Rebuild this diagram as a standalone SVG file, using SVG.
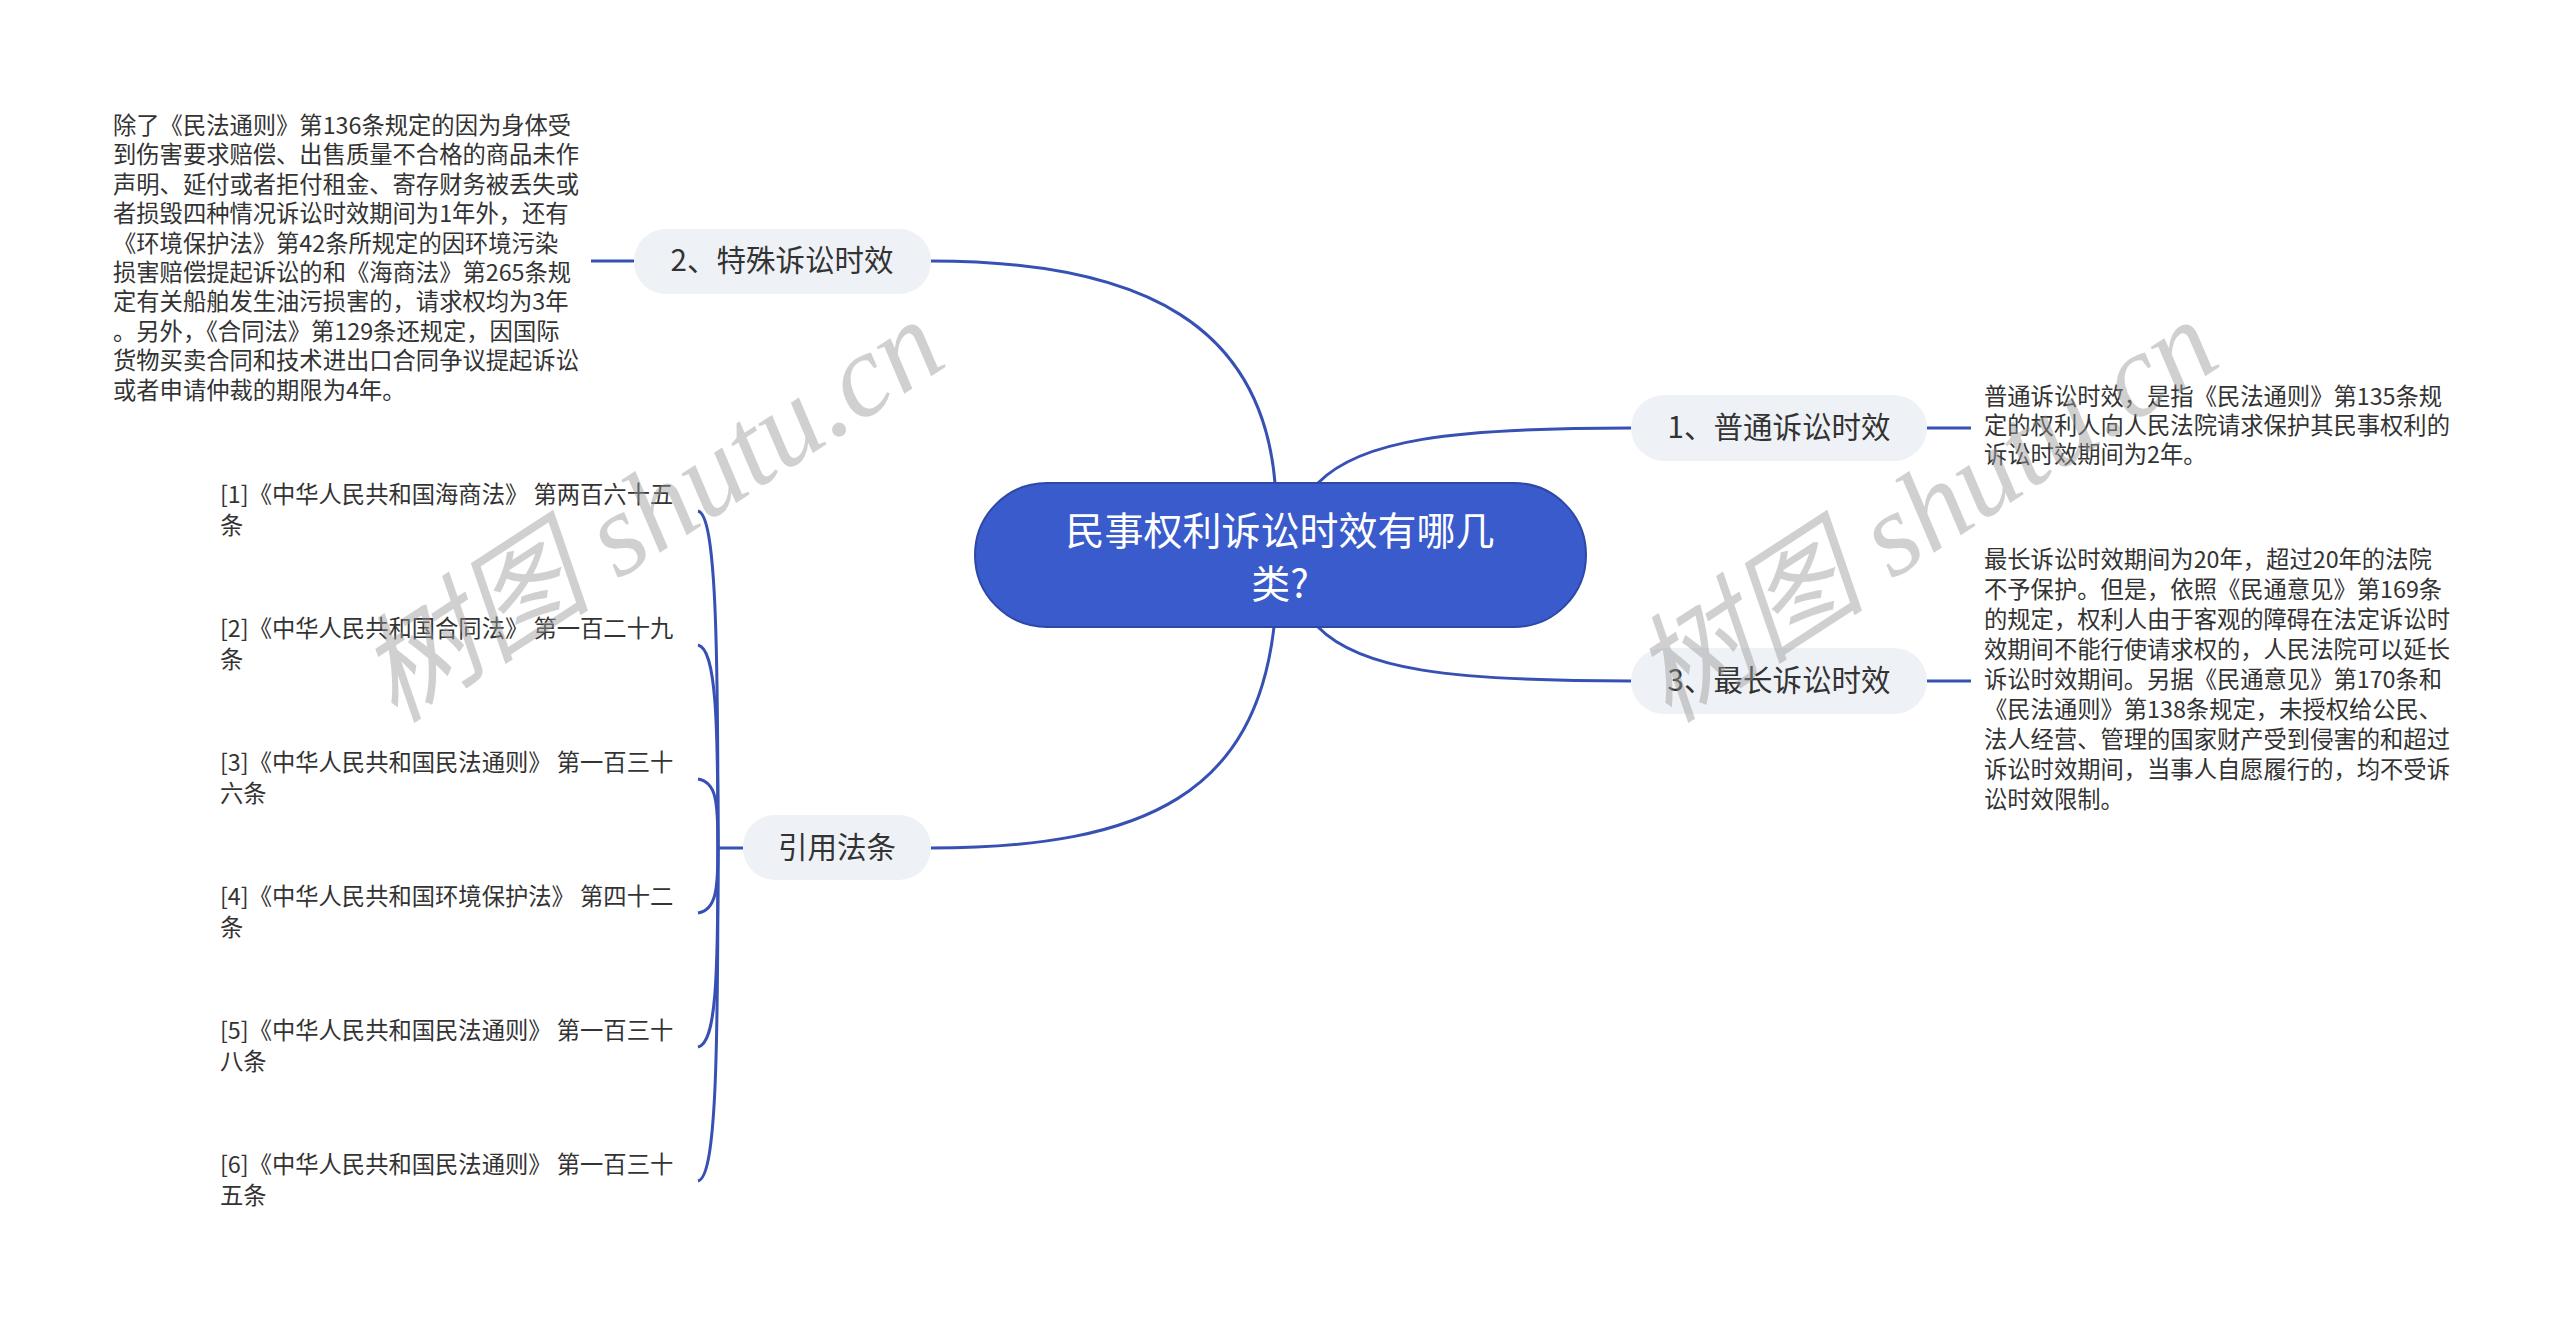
<svg xmlns="http://www.w3.org/2000/svg" width="2560" height="1323" viewBox="0 0 2560 1323">
<style>
.t{font-family:"Noto Sans CJK SC","Liberation Sans",sans-serif;fill:#333;font-size:23.3px}
.n{font-family:"Noto Sans CJK SC","Liberation Sans",sans-serif;fill:#333;font-size:29.5px}
.c{stroke:#3650b4;stroke-width:3;fill:none}
.wm{font-family:"Liberation Serif","Noto Sans CJK SC",serif;font-style:italic;font-size:118px;fill:#999;opacity:0.45}
</style>
<rect width="2560" height="1323" fill="#fff"/>
<g id="connectors">
<path class="c" d="M1275,483 C1262,330 1150,261 931,261"/>
<path class="c" d="M1318,483 C1360,440 1450,428 1631,428"/>
<path class="c" d="M1318,627 C1360,670 1450,681 1631,681"/>
<path class="c" d="M1274,627 C1255,790 1150,848 931,848"/>
<path class="c" d="M634,261 H591"/>
<path class="c" d="M1927,428 H1971"/>
<path class="c" d="M1927,681 H1971"/>
<path class="c" d="M743,848 H718"/>
<path class="c" d="M718,848 C718,640 716,515 698,511"/>
<path class="c" d="M718,848 C718,720 716,649 698,645"/>
<path class="c" d="M718,848 C718,800 716,782 698,779"/>
<path class="c" d="M718,848 C718,890 716,910 698,913"/>
<path class="c" d="M718,848 C718,980 716,1043 698,1047"/>
<path class="c" d="M718,848 C718,1060 716,1177 698,1181"/>
</g>
<g id="center">
<rect x="975" y="483" width="611" height="144" rx="72" fill="#3a5bcc" stroke="#2d48a6" stroke-width="2"/>
<text x="1280" y="545" text-anchor="middle" class="n" style="fill:#fff;font-size:39px">民事权利诉讼时效有哪几</text>
<text x="1280" y="598" text-anchor="middle" class="n" style="fill:#fff;font-size:39px">类?</text>
</g>
<g id="n1"><rect x="1631" y="395" width="296" height="66" rx="33" fill="#eef1f5"/><text x="1779" y="438" text-anchor="middle" class="n">1、普通诉讼时效</text></g>
<g id="n3"><rect x="1631" y="648" width="296" height="66" rx="33" fill="#eef1f5"/><text x="1779" y="691" text-anchor="middle" class="n">3、最长诉讼时效</text></g>
<g id="n2"><rect x="634" y="229" width="297" height="65" rx="32" fill="#eef1f5"/><text x="782" y="271" text-anchor="middle" class="n">2、特殊诉讼时效</text></g>
<g id="n4"><rect x="743" y="815" width="188" height="65" rx="32" fill="#eef1f5"/><text x="837" y="858" text-anchor="middle" class="n">引用法条</text></g>
<g id="t2">
<text class="t" x="113" y="134">除了《民法通则》第136条规定的因为身体受</text>
<text class="t" x="113" y="163">到伤害要求赔偿、出售质量不合格的商品未作</text>
<text class="t" x="113" y="193">声明、延付或者拒付租金、寄存财务被丢失或</text>
<text class="t" x="113" y="222">者损毁四种情况诉讼时效期间为1年外，还有</text>
<text class="t" x="113" y="252">《环境保护法》第42条所规定的因环境污染</text>
<text class="t" x="113" y="281">损害赔偿提起诉讼的和《海商法》第265条规</text>
<text class="t" x="113" y="310">定有关船舶发生油污损害的，请求权均为3年</text>
<text class="t" x="113" y="340">。另外，《合同法》第129条还规定，因国际</text>
<text class="t" x="113" y="369">货物买卖合同和技术进出口合同争议提起诉讼</text>
<text class="t" x="113" y="399">或者申请仲裁的期限为4年。</text>
</g>
<g id="t1">
<text class="t" x="1984" y="405">普通诉讼时效，是指《民法通则》第135条规</text>
<text class="t" x="1984" y="434">定的权利人向人民法院请求保护其民事权利的</text>
<text class="t" x="1984" y="463">诉讼时效期间为2年。</text>
</g>
<g id="t3">
<text class="t" x="1984" y="568">最长诉讼时效期间为20年，超过20年的法院</text>
<text class="t" x="1984" y="598">不予保护。但是，依照《民通意见》第169条</text>
<text class="t" x="1984" y="628">的规定，权利人由于客观的障碍在法定诉讼时</text>
<text class="t" x="1984" y="658">效期间不能行使请求权的，人民法院可以延长</text>
<text class="t" x="1984" y="688">诉讼时效期间。另据《民通意见》第170条和</text>
<text class="t" x="1984" y="718">《民法通则》第138条规定，未授权给公民、</text>
<text class="t" x="1984" y="748">法人经营、管理的国家财产受到侵害的和超过</text>
<text class="t" x="1984" y="778">诉讼时效期间，当事人自愿履行的，均不受诉</text>
<text class="t" x="1984" y="808">讼时效限制。</text>
</g>
<g id="refs">
<text class="t" x="220" y="503">[1]《中华人民共和国海商法》 第两百六十五</text><text class="t" x="220" y="534">条</text>
<text class="t" x="220" y="637">[2]《中华人民共和国合同法》 第一百二十九</text><text class="t" x="220" y="668">条</text>
<text class="t" x="220" y="771">[3]《中华人民共和国民法通则》 第一百三十</text><text class="t" x="220" y="802">六条</text>
<text class="t" x="220" y="905">[4]《中华人民共和国环境保护法》 第四十二</text><text class="t" x="220" y="936">条</text>
<text class="t" x="220" y="1039">[5]《中华人民共和国民法通则》 第一百三十</text><text class="t" x="220" y="1070">八条</text>
<text class="t" x="220" y="1173">[6]《中华人民共和国民法通则》 第一百三十</text><text class="t" x="220" y="1204">五条</text>
</g>
<g id="watermarks">
<text class="wm" x="653" y="550" text-anchor="middle" transform="rotate(-33 653 514)">树图 shutu.cn</text>
<text class="wm" x="1927" y="550" text-anchor="middle" transform="rotate(-33 1927 514)">树图 shutu.cn</text>
</g>
</svg>
